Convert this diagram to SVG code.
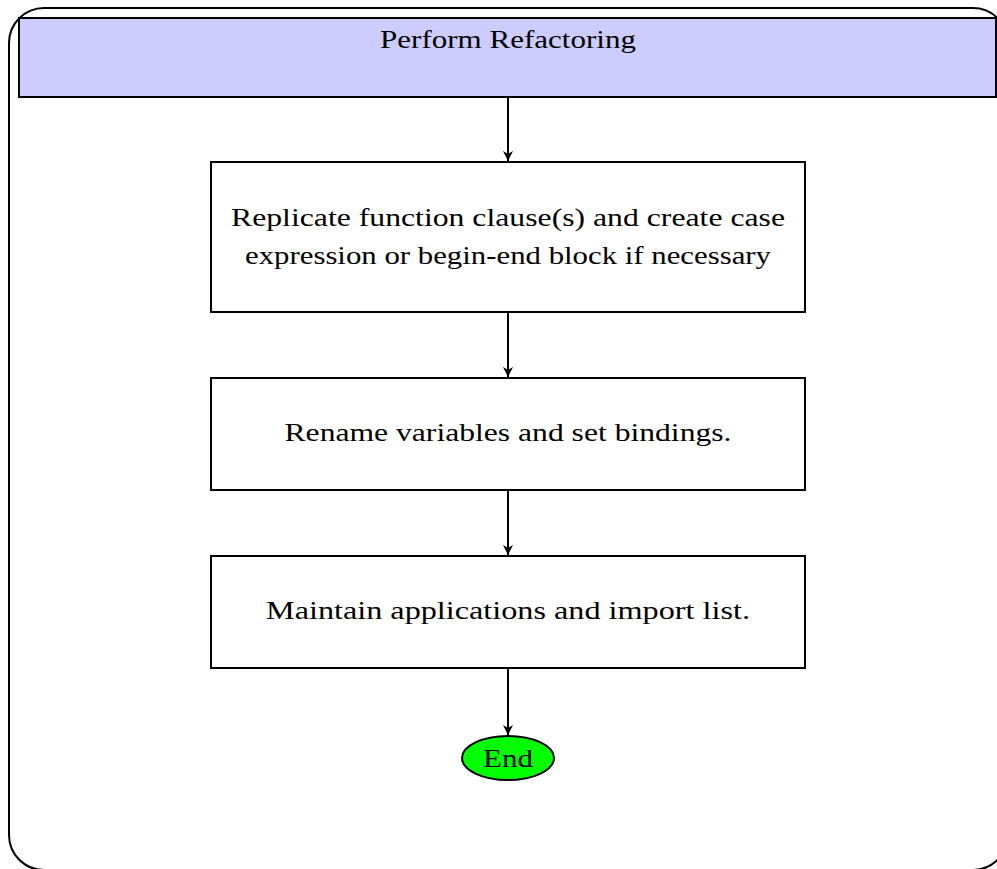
<svg xmlns="http://www.w3.org/2000/svg" width="997" height="869" viewBox="0 0 997 869">
<defs>
<style>
.box{fill:#ffffff;stroke:#000;stroke-width:2}
.t{font-family:"Liberation Serif","DejaVu Serif",serif;font-size:26px;fill:#000;text-anchor:middle}
.c{stroke:#000;stroke-width:2;fill:none;marker-end:url(#ah)}
</style>
<marker id="ah" viewBox="0 0 10 10" refX="10" refY="5" markerWidth="5" markerHeight="5" markerUnits="strokeWidth" orient="auto">
<path d="M0,0 L10,5 L0,10 L3,5 Z" fill="#000"/>
</marker>
</defs>
<rect width="997" height="869" fill="#fff"/>
<g id="frame">
<rect x="9" y="8" width="999" height="862" rx="35" ry="35" fill="none" stroke="#000" stroke-width="2"/>
</g>
<g id="header">
<rect x="19" y="18" width="977" height="79" fill="#ccccff" stroke="#000" stroke-width="2"/>
<text class="t" x="508" y="48" textLength="256" lengthAdjust="spacingAndGlyphs">Perform Refactoring</text>
</g>
<g id="connectors">
<line class="c" x1="508" y1="97" x2="508" y2="161"/>
<line class="c" x1="508" y1="312" x2="508" y2="377"/>
<line class="c" x1="508" y1="490" x2="508" y2="555"/>
<line class="c" x1="508" y1="668" x2="508" y2="735"/>
</g>
<g id="replicate">
<rect class="box" x="211" y="162" width="594" height="150"/>
<text class="t" x="508" y="226" textLength="554" lengthAdjust="spacingAndGlyphs">Replicate function clause(s) and create case</text>
<text class="t" x="508" y="264" textLength="526" lengthAdjust="spacingAndGlyphs">expression or begin-end block if necessary</text>
</g>
<g id="rename">
<rect class="box" x="211" y="378" width="594" height="112"/>
<text class="t" x="508" y="441" textLength="447" lengthAdjust="spacingAndGlyphs">Rename variables and set bindings.</text>
</g>
<g id="maintain">
<rect class="box" x="211" y="556" width="594" height="112"/>
<text class="t" x="508" y="619" textLength="484" lengthAdjust="spacingAndGlyphs">Maintain applications and import list.</text>
</g>
<g id="end">
<ellipse cx="508" cy="758" rx="46" ry="22" fill="#00ff00" stroke="#000" stroke-width="2"/>
<text class="t" x="508" y="767" textLength="50" lengthAdjust="spacingAndGlyphs">End</text>
</g>
</svg>
